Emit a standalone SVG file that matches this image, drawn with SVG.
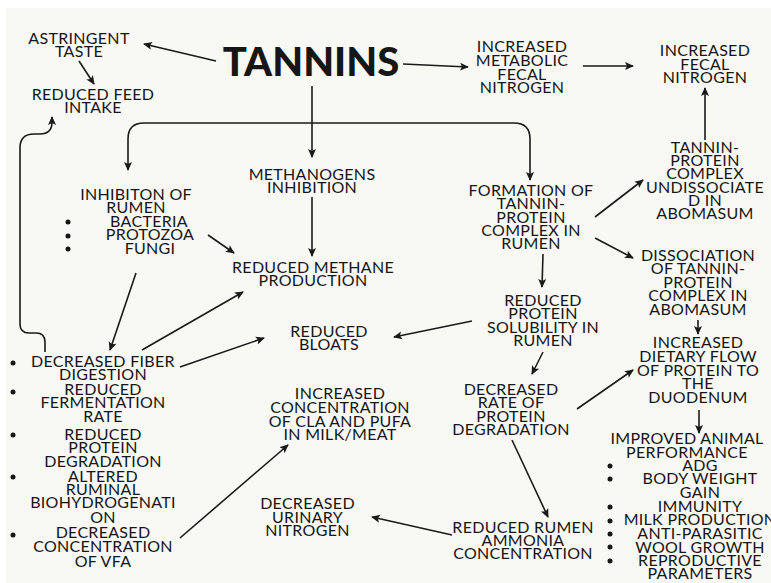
<svg xmlns="http://www.w3.org/2000/svg" width="771" height="583" viewBox="0 0 771 583">
<defs>
<marker id="ah" markerUnits="userSpaceOnUse" markerWidth="10" markerHeight="10" viewBox="0 0 10 10" refX="8" refY="5" orient="auto">
<path d="M0,1 L9,5 L0,9 L2,5 z" fill="#1a1a1a"/>
</marker>
<style>
text{font-family:Lato,"Liberation Sans",sans-serif;font-size:16px;fill:#161616;text-anchor:middle;letter-spacing:0.3px}
.big{font-size:40px;font-weight:900;letter-spacing:0}
.c path{fill:none;stroke:#1a1a1a;stroke-width:1.6}
.c .a{marker-end:url(#ah)}
circle{fill:#161616}
</style>
</defs>
<rect x="0" y="0" width="771" height="583" fill="#ffffff"/>
<rect x="6" y="8" width="765" height="575" fill="#f8f8f4"/>

<g class="c" id="connectors">
<path class="a" d="M216,61 L144,44"/>
<path class="a" d="M79,61 L94,84"/>
<path class="a" d="M403,64 L468,67"/>
<path class="a" d="M583,66 L633,66"/>
<path class="a" d="M705,140 L705,88"/>
<path class="a" d="M312,86 L312,157"/>
<path class="a" d="M312,123 H144 Q128,123 128,139 V170"/>
<path class="a" d="M312,123 H514 Q530,123 530,139 V180"/>
<path class="a" d="M312,197 L312,256"/>
<path class="a" d="M208,235 L234,253"/>
<path class="a" d="M136,273 L110,350"/>
<path class="a" d="M142,350 L243,292"/>
<path class="a" d="M180,367 L264,338"/>
<path class="a" d="M180,538 L288,445"/>
<path class="a" d="M595,217 L643,180"/>
<path class="a" d="M595,238 L633,258"/>
<path class="a" d="M543,254 L542,287"/>
<path class="a" d="M472,321 L394,337"/>
<path class="a" d="M543,352 L532,374"/>
<path class="a" d="M698,320 L698,334"/>
<path class="a" d="M577,409 L633,370"/>
<path class="a" d="M512,440 L548,517"/>
<path class="a" d="M452,535 L372,517"/>
<path class="a" d="M699,410 L699,433"/>
<path class="a" d="M45,352 V342 Q45,333 36,333 H29 Q20,333 20,324 V148 Q20,134 34,134 H40 Q52,134 52,122 V117"/>
</g>

<g id="astringent"><text><tspan x="79" y="44">ASTRINGENT</tspan><tspan x="79" y="57">TASTE</tspan></text></g>
<g id="feed-intake"><text><tspan x="93" y="100">REDUCED FEED</tspan><tspan x="93" y="113">INTAKE</tspan></text></g>
<g id="tannins"><text class="big" x="311" y="76">TANNINS</text></g>
<g id="metabolic-fecal-n"><text><tspan x="522" y="52">INCREASED</tspan><tspan x="522" y="66">METABOLIC</tspan><tspan x="522" y="80">FECAL</tspan><tspan x="522" y="93">NITROGEN</tspan></text></g>
<g id="fecal-n"><text><tspan x="705" y="56">INCREASED</tspan><tspan x="705" y="70">FECAL</tspan><tspan x="705" y="83">NITROGEN</tspan></text></g>
<g id="undissociated"><text><tspan x="705" y="153">TANNIN-</tspan><tspan x="705" y="166">PROTEIN</tspan><tspan x="705" y="179">COMPLEX</tspan><tspan x="705" y="193">UNDISSOCIATE</tspan><tspan x="705" y="206">D IN</tspan><tspan x="705" y="219">ABOMASUM</tspan></text></g>
<g id="formation"><text><tspan x="531" y="196">FORMATION OF</tspan><tspan x="531" y="209">TANNIN-</tspan><tspan x="531" y="223">PROTEIN</tspan><tspan x="531" y="236">COMPLEX IN</tspan><tspan x="531" y="249">RUMEN</tspan></text></g>
<g id="dissociation"><text><tspan x="698" y="261">DISSOCIATION</tspan><tspan x="698" y="274">OF TANNIN-</tspan><tspan x="698" y="288">PROTEIN</tspan><tspan x="698" y="301">COMPLEX IN</tspan><tspan x="698" y="315">ABOMASUM</tspan></text></g>
<g id="solubility"><text><tspan x="543" y="306">REDUCED</tspan><tspan x="543" y="319">PROTEIN</tspan><tspan x="543" y="333">SOLUBILITY IN</tspan><tspan x="543" y="346">RUMEN</tspan></text></g>
<g id="dietary-flow"><text><tspan x="698" y="348">INCREASED</tspan><tspan x="698" y="362">DIETARY FLOW</tspan><tspan x="698" y="376">OF PROTEIN TO</tspan><tspan x="698" y="389">THE</tspan><tspan x="698" y="403">DUODENUM</tspan></text></g>
<g id="degradation"><text><tspan x="511" y="395">DECREASED</tspan><tspan x="511" y="408">RATE OF</tspan><tspan x="511" y="422">PROTEIN</tspan><tspan x="511" y="435">DEGRADATION</tspan></text></g>
<g id="ammonia"><text><tspan x="523" y="533">REDUCED RUMEN</tspan><tspan x="523" y="546">AMMONIA</tspan><tspan x="523" y="559">CONCENTRATION</tspan></text></g>
<g id="performance">
<text><tspan x="687" y="444">IMPROVED ANIMAL</tspan><tspan x="687" y="458">PERFORMANCE</tspan><tspan x="700" y="471">ADG</tspan><tspan x="700" y="484">BODY WEIGHT</tspan><tspan x="700" y="498">GAIN</tspan><tspan x="700" y="512">IMMUNITY</tspan><tspan x="700" y="525">MILK PRODUCTION</tspan><tspan x="700" y="539">ANTI-PARASITIC</tspan><tspan x="700" y="553">WOOL GROWTH</tspan><tspan x="700" y="566">REPRODUCTIVE</tspan><tspan x="700" y="579">PARAMETERS</tspan></text>
<circle cx="610" cy="466" r="2.5"/><circle cx="610" cy="479" r="2.5"/><circle cx="610" cy="507" r="2.5"/><circle cx="610" cy="521" r="2.5"/><circle cx="610" cy="534" r="2.5"/><circle cx="610" cy="547" r="2.5"/><circle cx="610" cy="561" r="2.5"/>
</g>
<g id="inhibition-rumen">
<text><tspan x="136" y="200">INHIBITON OF</tspan><tspan x="136" y="213">RUMEN</tspan><tspan x="149" y="227">BACTERIA</tspan><tspan x="150" y="240">PROTOZOA</tspan><tspan x="150" y="254">FUNGI</tspan></text>
<circle cx="68" cy="222" r="2.5"/><circle cx="68" cy="236" r="2.5"/><circle cx="68" cy="249" r="2.5"/>
</g>
<g id="methanogens"><text><tspan x="312" y="180">METHANOGENS</tspan><tspan x="312" y="193">INHIBITION</tspan></text></g>
<g id="methane"><text><tspan x="313" y="273">REDUCED METHANE</tspan><tspan x="313" y="286">PRODUCTION</tspan></text></g>
<g id="bloats"><text><tspan x="329" y="337">REDUCED</tspan><tspan x="329" y="350">BLOATS</tspan></text></g>
<g id="fiber">
<text><tspan x="103" y="367">DECREASED FIBER</tspan><tspan x="103" y="380">DIGESTION</tspan><tspan x="103" y="395">REDUCED</tspan><tspan x="103" y="408">FERMENTATION</tspan><tspan x="103" y="422">RATE</tspan><tspan x="103" y="440">REDUCED</tspan><tspan x="103" y="453">PROTEIN</tspan><tspan x="103" y="467">DEGRADATION</tspan><tspan x="103" y="482">ALTERED</tspan><tspan x="103" y="495">RUMINAL</tspan><tspan x="103" y="508">BIOHYDROGENATI</tspan><tspan x="103" y="523">ON</tspan><tspan x="103" y="538">DECREASED</tspan><tspan x="103" y="552">CONCENTRATION</tspan><tspan x="103" y="567">OF VFA</tspan></text>
<circle cx="13" cy="363" r="2.5"/><circle cx="13" cy="392" r="2.5"/><circle cx="13" cy="435" r="2.5"/><circle cx="13" cy="477" r="2.5"/><circle cx="13" cy="535" r="2.5"/>
</g>
<g id="cla-pufa"><text><tspan x="340" y="399">INCREASED</tspan><tspan x="340" y="413">CONCENTRATION</tspan><tspan x="340" y="427">OF CLA AND PUFA</tspan><tspan x="340" y="440">IN MILK/MEAT</tspan></text></g>
<g id="urinary-n"><text><tspan x="307.5" y="509">DECREASED</tspan><tspan x="307.5" y="523">URINARY</tspan><tspan x="307.5" y="536">NITROGEN</tspan></text></g>
</svg>
